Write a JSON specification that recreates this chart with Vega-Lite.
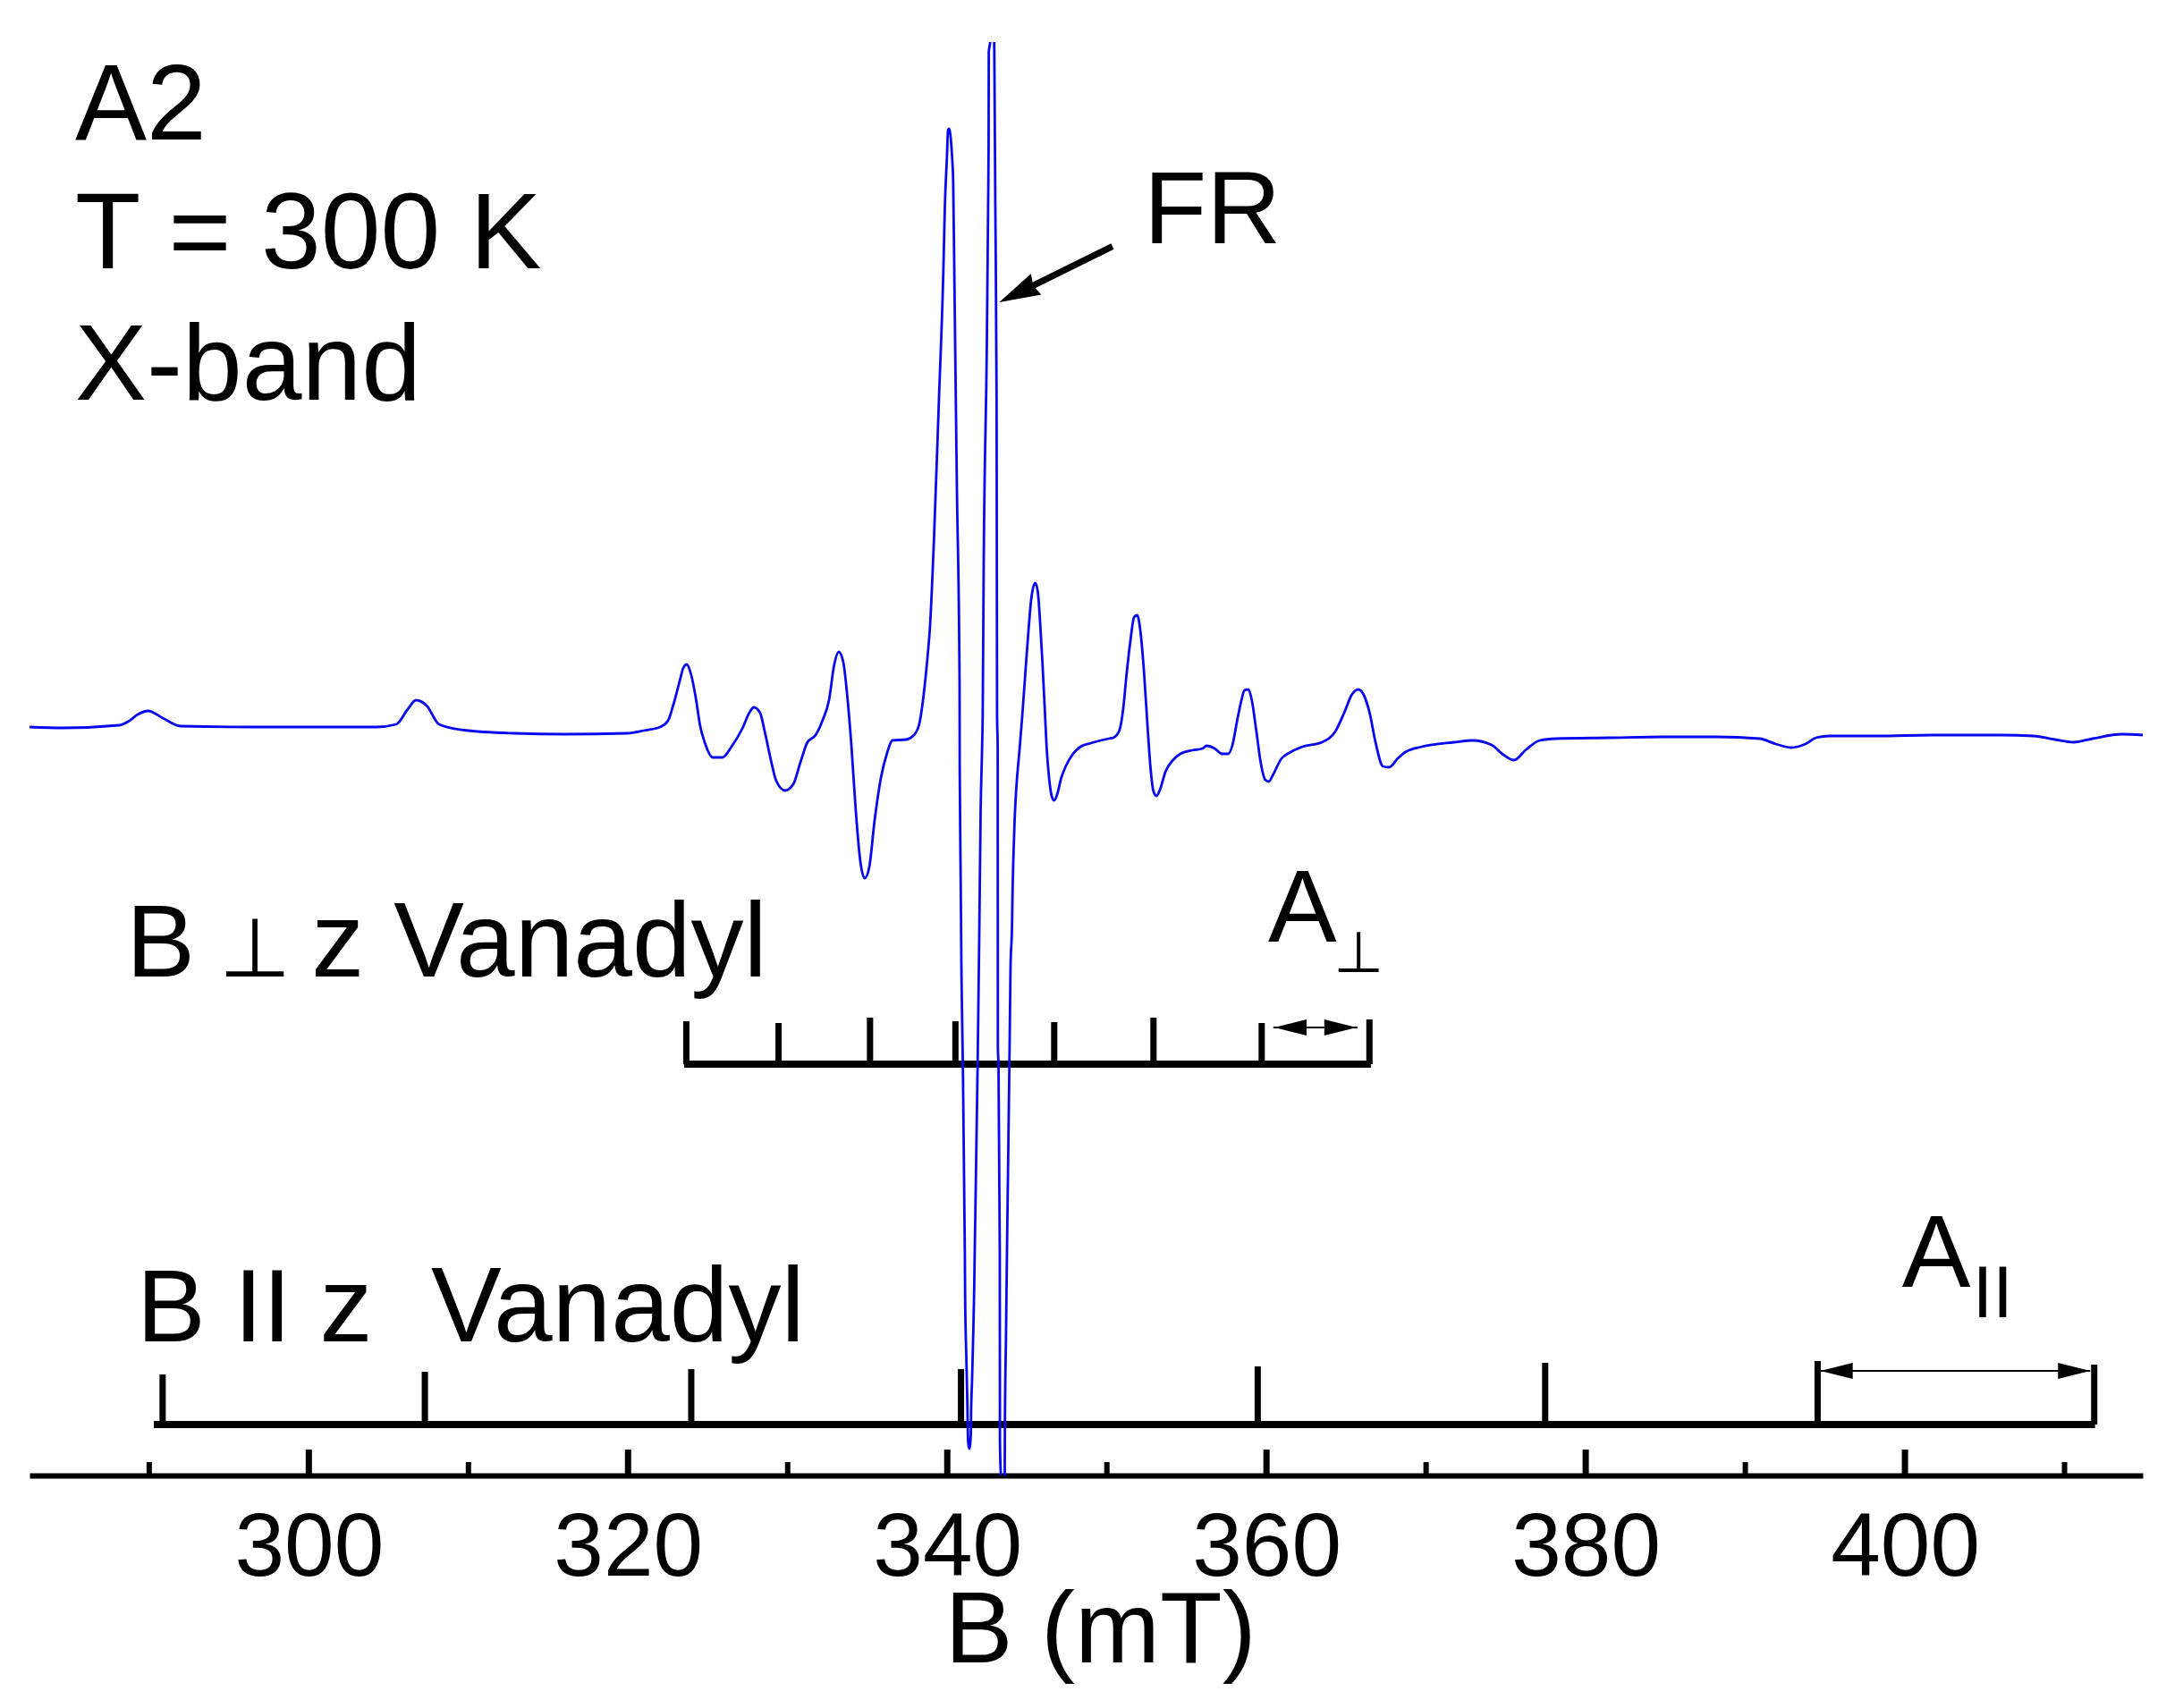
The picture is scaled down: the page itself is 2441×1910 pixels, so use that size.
{
  "$schema": "https://vega.github.io/schema/vega-lite/v6.json",
  "width": 2363,
  "height": 1603,
  "autosize": {"type": "none"},
  "padding": {"left": 33, "top": 47, "right": 45, "bottom": 260},
  "background": "white",
  "datasets": {
    "spectrum": [
      {"B":282.5,"s":0},{"B":284.58,"s":-1},{"B":288.11,"s":2},{"B":288.72,"s":6.5},{"B":289.28,"s":14},{"B":289.93,"s":18},{"B":290.85,"s":10},{"B":291.97,"s":1},{"B":296.38,"s":0},{"B":300.31,"s":0},{"B":304.24,"s":0},{"B":305.47,"s":3},{"B":306.2,"s":20},{"B":306.71,"s":30},{"B":307.38,"s":24},{"B":308.16,"s":3},{"B":309.73,"s":-3.5},{"B":312.87,"s":-7},{"B":316.01,"s":-8},{"B":319.95,"s":-7},{"B":320.99,"s":-4},{"B":322.0,"s":0},{"B":322.5,"s":7},{"B":322.84,"s":25},{"B":323.23,"s":51},{"B":323.46,"s":66},{"B":323.68,"s":70},{"B":323.96,"s":58},{"B":324.24,"s":33},{"B":324.52,"s":1},{"B":324.8,"s":-17},{"B":325.31,"s":-34},{"B":325.92,"s":-34},{"B":326.48,"s":-22},{"B":327.15,"s":-2},{"B":327.6,"s":16},{"B":327.88,"s":22},{"B":328.27,"s":16},{"B":328.55,"s":-4},{"B":328.95,"s":-37},{"B":329.28,"s":-60},{"B":329.84,"s":-71},{"B":330.35,"s":-64},{"B":330.79,"s":-40},{"B":331.24,"s":-17},{"B":331.75,"s":-9},{"B":332.2,"s":8},{"B":332.59,"s":30},{"B":332.92,"s":70},{"B":333.2,"s":84},{"B":333.48,"s":73},{"B":333.76,"s":30},{"B":333.99,"s":-20},{"B":334.27,"s":-94},{"B":334.55,"s":-150},{"B":334.83,"s":-169},{"B":335.11,"s":-157},{"B":335.45,"s":-104},{"B":335.84,"s":-57},{"B":336.23,"s":-29},{"B":336.56,"s":-15},{"B":337.41,"s":-14},{"B":337.91,"s":-9},{"B":338.24,"s":3},{"B":338.52,"s":36},{"B":338.75,"s":76},{"B":338.92,"s":113},{"B":339.16,"s":207},{"B":339.48,"s":367},{"B":339.75,"s":507},{"B":339.85,"s":583},{"B":339.98,"s":638},{"B":340.05,"s":668},{"B":340.13,"s":669},{"B":340.22,"s":658},{"B":340.3,"s":638},{"B":340.37,"s":610},{"B":340.45,"s":494},{"B":340.6,"s":271},{"B":340.77,"s":48},{"B":340.78,"s":-47},{"B":340.84,"s":-169},{"B":340.89,"s":-277},{"B":340.97,"s":-370},{"B":341.1,"s":-587},{"B":341.12,"s":-639},{"B":341.2,"s":-709},{"B":341.25,"s":-750},{"B":341.31,"s":-800},{"B":341.38,"s":-807},{"B":341.48,"s":-790},{"B":341.49,"s":-769},{"B":341.55,"s":-732},{"B":341.62,"s":-684},{"B":341.68,"s":-635},{"B":341.72,"s":-587},{"B":341.9,"s":-380},{"B":342.0,"s":-239},{"B":342.09,"s":-94},{"B":342.18,"s":-24},{"B":342.22,"s":13},{"B":342.28,"s":175},{"B":342.48,"s":430},{"B":342.56,"s":583},{"B":342.59,"s":651},{"B":342.6,"s":755},{"B":342.69,"s":766},{"B":342.81,"s":803},{"B":342.94,"s":766},{"B":342.95,"s":748},{"B":343.01,"s":583},{"B":343.09,"s":367},{"B":343.12,"s":13},{"B":343.16,"s":-24},{"B":343.17,"s":-357},{"B":343.21,"s":-380},{"B":343.29,"s":-587},{"B":343.3,"s":-800},{"B":343.36,"s":-837},{"B":343.48,"s":-857},{"B":343.6,"s":-837},{"B":343.61,"s":-784},{"B":343.68,"s":-680},{"B":343.74,"s":-587},{"B":343.89,"s":-380},{"B":343.92,"s":-334},{"B":343.96,"s":-272},{"B":344.06,"s":-219},{"B":344.09,"s":-184},{"B":344.14,"s":-147},{"B":344.22,"s":-104},{"B":344.33,"s":-67},{"B":344.52,"s":-27},{"B":344.7,"s":13},{"B":344.89,"s":60},{"B":345.08,"s":106},{"B":345.26,"s":143},{"B":345.51,"s":161},{"B":345.68,"s":150},{"B":345.82,"s":116},{"B":345.96,"s":73},{"B":346.1,"s":23},{"B":346.24,"s":-27},{"B":346.38,"s":-57},{"B":346.54,"s":-77},{"B":346.7,"s":-82},{"B":346.89,"s":-75},{"B":347.14,"s":-57},{"B":347.42,"s":-44},{"B":347.88,"s":-30},{"B":348.35,"s":-22},{"B":349.0,"s":-18},{"B":350.12,"s":-13},{"B":350.4,"s":-12},{"B":350.78,"s":-4},{"B":351.02,"s":20},{"B":351.24,"s":60},{"B":351.47,"s":96},{"B":351.71,"s":123},{"B":351.9,"s":125},{"B":352.08,"s":110},{"B":352.32,"s":63},{"B":352.55,"s":0},{"B":352.74,"s":-47},{"B":352.92,"s":-72},{"B":353.11,"s":-77},{"B":353.33,"s":-70},{"B":353.67,"s":-50},{"B":354.14,"s":-37},{"B":354.6,"s":-30},{"B":355.35,"s":-26},{"B":356.0,"s":-24},{"B":356.24,"s":-21},{"B":356.75,"s":-24},{"B":357.22,"s":-30},{"B":357.59,"s":-30},{"B":357.87,"s":-20},{"B":358.15,"s":6},{"B":358.43,"s":30},{"B":358.62,"s":41},{"B":358.86,"s":42},{"B":359.08,"s":30},{"B":359.36,"s":-4},{"B":359.64,"s":-40},{"B":359.92,"s":-59},{"B":360.15,"s":-61},{"B":360.39,"s":-54},{"B":360.95,"s":-35},{"B":361.42,"s":-29},{"B":362.26,"s":-22},{"B":363.47,"s":-17},{"B":364.31,"s":-5},{"B":364.87,"s":16},{"B":365.34,"s":36},{"B":365.75,"s":42},{"B":366.09,"s":36},{"B":366.46,"s":16},{"B":366.83,"s":-17},{"B":367.3,"s":-44},{"B":367.67,"s":-45},{"B":368.23,"s":-35},{"B":368.7,"s":-28},{"B":369.73,"s":-22},{"B":371.75,"s":-17},{"B":372.92,"s":-15},{"B":374.1,"s":-20},{"B":374.77,"s":-30},{"B":375.5,"s":-37},{"B":376.28,"s":-25},{"B":377.12,"s":-15},{"B":378.13,"s":-13},{"B":381.49,"s":-12},{"B":384.86,"s":-11},{"B":388.2,"s":-11},{"B":390.9,"s":-13},{"B":391.91,"s":-19},{"B":392.87,"s":-23},{"B":393.76,"s":-19},{"B":394.43,"s":-12},{"B":395.27,"s":-10},{"B":398.3,"s":-10},{"B":401.66,"s":-9},{"B":406.03,"s":-9},{"B":408.05,"s":-10},{"B":409.4,"s":-14},{"B":410.57,"s":-17},{"B":411.75,"s":-13},{"B":413.6,"s":-8},{"B":414.9,"s":-9}
    ],
    "sticks": [
      {"B":323.65,"top":-329,"base":-377},{"B":329.43,"top":-331,"base":-377},{"B":335.16,"top":-325,"base":-377},{"B":340.51,"top":-329,"base":-377},{"B":346.7,"top":-330,"base":-377},{"B":352.92,"top":-325,"base":-377},{"B":359.7,"top":-331,"base":-377},{"B":366.45,"top":-327,"base":-377},
      {"B":290.84,"top":-724,"base":-780},{"B":307.27,"top":-721,"base":-780},{"B":323.96,"top":-718,"base":-780},{"B":340.86,"top":-718,"base":-780},{"B":359.45,"top":-715,"base":-780},{"B":377.46,"top":-711,"base":-780},{"B":394.53,"top":-709,"base":-780},{"B":411.86,"top":-713,"base":-780}
    ],
    "combs": [
      {"from":323.51,"to":366.54,"s":-377},
      {"from":290.29,"to":411.91,"s":-780}
    ],
    "spans": [
      {"from":360.43,"to":365.7,"s":-336},
      {"from":394.71,"to":411.61,"s":-720}
    ],
    "heads_left": [{"B":361.5,"s":-336},{"B":395.72,"s":-720}],
    "heads_right": [{"B":364.63,"s":-336},{"B":410.6,"s":-720}],
    "minor": [
      {"B":290,"top":-822,"base":-837},{"B":310,"top":-822,"base":-837},{"B":330,"top":-822,"base":-837},{"B":350,"top":-822,"base":-837},{"B":370,"top":-822,"base":-837},{"B":390,"top":-822,"base":-837},{"B":410,"top":-822,"base":-837}
    ],
    "major": [
      {"B":300,"top":-808,"base":-837},{"B":320,"top":-808,"base":-837},{"B":340,"top":-808,"base":-837},{"B":360,"top":-808,"base":-837},{"B":380,"top":-808,"base":-837},{"B":400,"top":-808,"base":-837}
    ],
    "fr_shaft": [{"B":350.35,"s":537.5,"B2":345.08,"s2":491}],
    "fr_head": [{"B":344.41,"s":485}],
    "head_text": [
      {"B":285.36,"s":657,"label":"A2"},
      {"B":285.36,"s":513,"label":"T = 300 K"},
      {"B":285.36,"s":366,"label":"X-band"}
    ],
    "side_text": [
      {"B":352.31,"s":541,"label":"FR"},
      {"B":288.56,"s":-279,"label":"B"},
      {"B":289.23,"s":-687,"label":"B II"},
      {"B":360.1,"s":-240,"label":"A"},
      {"B":399.81,"s":-626,"label":"A"}
    ],
    "vanadyl_text": [
      {"B":300.17,"s":-279,"label":"z Vanadyl"},
      {"B":300.68,"s":-687,"label":"z\u00a0\u00a0Vanadyl"}
    ],
    "perp_big": [{"B":296.62,"s":-279,"label":"⊥"}],
    "perp_sub": [{"B":365.78,"s":-274,"label":"⊥"}],
    "par_sub": [{"B":404.24,"s":-660,"label":"II"}]
  },
  "layer": [
    {
      "data": {"name": "major"},
      "mark": {"type": "rule", "color": "black", "strokeWidth": 7},
      "encoding": {
        "x": {"field": "B", "type": "quantitative"},
        "y": {"field": "top", "type": "quantitative"},
        "y2": {"field": "base"}
      }
    },
    {
      "data": {"name": "minor"},
      "mark": {"type": "rule", "color": "black", "strokeWidth": 6},
      "encoding": {
        "x": {"field": "B", "type": "quantitative"},
        "y": {"field": "top", "type": "quantitative"},
        "y2": {"field": "base"}
      }
    },
    {
      "data": {"name": "sticks"},
      "mark": {"type": "rule", "color": "black", "strokeWidth": 7},
      "encoding": {
        "x": {"field": "B", "type": "quantitative"},
        "y": {"field": "top", "type": "quantitative"},
        "y2": {"field": "base"}
      }
    },
    {
      "data": {"name": "combs"},
      "mark": {"type": "rule", "color": "black", "strokeWidth": 8},
      "encoding": {
        "x": {"field": "from", "type": "quantitative"},
        "x2": {"field": "to"},
        "y": {"field": "s", "type": "quantitative"}
      }
    },
    {
      "data": {"name": "spans"},
      "mark": {"type": "rule", "color": "black", "strokeWidth": 2},
      "encoding": {
        "x": {"field": "from", "type": "quantitative"},
        "x2": {"field": "to"},
        "y": {"field": "s", "type": "quantitative"}
      }
    },
    {
      "data": {"name": "heads_left"},
      "mark": {"type": "point", "filled": true, "color": "black", "opacity": 1, "size": 1296, "shape": "M-1,0 L1,-0.5 L1,0.5 Z"},
      "encoding": {
        "x": {"field": "B", "type": "quantitative"},
        "y": {"field": "s", "type": "quantitative"}
      }
    },
    {
      "data": {"name": "heads_right"},
      "mark": {"type": "point", "filled": true, "color": "black", "opacity": 1, "size": 1296, "shape": "M1,0 L-1,-0.5 L-1,0.5 Z"},
      "encoding": {
        "x": {"field": "B", "type": "quantitative"},
        "y": {"field": "s", "type": "quantitative"}
      }
    },
    {
      "data": {"name": "fr_shaft"},
      "mark": {"type": "rule", "color": "black", "strokeWidth": 7},
      "encoding": {
        "x": {"field": "B", "type": "quantitative"},
        "x2": {"field": "B2"},
        "y": {"field": "s", "type": "quantitative"},
        "y2": {"field": "s2"}
      }
    },
    {
      "data": {"name": "fr_head"},
      "mark": {"type": "point", "filled": true, "color": "black", "opacity": 1, "size": 2100, "angle": 333.8, "shape": "M-1,0 L1,-0.57 L0.85,0 L1,0.57 Z"},
      "encoding": {
        "x": {"field": "B", "type": "quantitative"},
        "y": {"field": "s", "type": "quantitative"}
      }
    },
    {
      "data": {"name": "head_text"},
      "mark": {"type": "text", "font": "Liberation Sans", "fontSize": 120, "align": "left", "baseline": "alphabetic", "color": "black"},
      "encoding": {
        "x": {"field": "B", "type": "quantitative"},
        "y": {"field": "s", "type": "quantitative"},
        "text": {"field": "label"}
      }
    },
    {
      "data": {"name": "side_text"},
      "mark": {"type": "text", "font": "Liberation Sans", "fontSize": 115, "align": "left", "baseline": "alphabetic", "color": "black"},
      "encoding": {
        "x": {"field": "B", "type": "quantitative"},
        "y": {"field": "s", "type": "quantitative"},
        "text": {"field": "label"}
      }
    },
    {
      "data": {"name": "vanadyl_text"},
      "mark": {"type": "text", "font": "Liberation Sans", "fontSize": 118, "align": "left", "baseline": "alphabetic", "color": "black"},
      "encoding": {
        "x": {"field": "B", "type": "quantitative"},
        "y": {"field": "s", "type": "quantitative"},
        "text": {"field": "label"}
      }
    },
    {
      "data": {"name": "perp_big"},
      "mark": {"type": "text", "font": "DejaVu Sans", "fontSize": 92, "align": "center", "baseline": "alphabetic", "color": "black"},
      "encoding": {
        "x": {"field": "B", "type": "quantitative"},
        "y": {"field": "s", "type": "quantitative"},
        "text": {"field": "label"}
      }
    },
    {
      "data": {"name": "perp_sub"},
      "mark": {"type": "text", "font": "DejaVu Sans", "fontSize": 64, "align": "center", "baseline": "alphabetic", "color": "black"},
      "encoding": {
        "x": {"field": "B", "type": "quantitative"},
        "y": {"field": "s", "type": "quantitative"},
        "text": {"field": "label"}
      }
    },
    {
      "data": {"name": "par_sub"},
      "mark": {"type": "text", "font": "Liberation Sans", "fontSize": 81, "align": "left", "baseline": "alphabetic", "color": "black"},
      "encoding": {
        "x": {"field": "B", "type": "quantitative"},
        "y": {"field": "s", "type": "quantitative"},
        "text": {"field": "label"}
      }
    },
    {
      "data": {"name": "spectrum"},
      "mark": {"type": "line", "color": "#0808f0", "strokeWidth": 2.8, "clip": true, "interpolate": "monotone"},
      "encoding": {
        "x": {
          "field": "B",
          "type": "quantitative",
          "scale": {"domain": [282.5, 414.9], "nice": false, "zero": false},
          "axis": {
            "values": [300, 320, 340, 360, 380, 400],
            "format": "d",
            "grid": false,
            "ticks": false,
            "domainColor": "black",
            "domainWidth": 6,
            "labelFont": "Liberation Sans",
            "labelFontSize": 100,
            "labelColor": "black",
            "labelPadding": 32,
            "labelOverlap": false,
            "labelFlush": false,
            "title": "B (mT)",
            "titleFont": "Liberation Sans",
            "titleFontSize": 114,
            "titleFontWeight": "normal",
            "titleColor": "black",
            "titleBaseline": "alphabetic",
            "titleX": 1197,
            "titleY": 208
          }
        },
        "y": {
          "field": "s",
          "type": "quantitative",
          "scale": {"domain": [-837, 766], "nice": false, "zero": false}
        }
      }
    }
  ],
  "config": {
    "view": {"stroke": null},
    "axisY": {"disable": true},
    "axisX": {"grid": false}
  }
}
